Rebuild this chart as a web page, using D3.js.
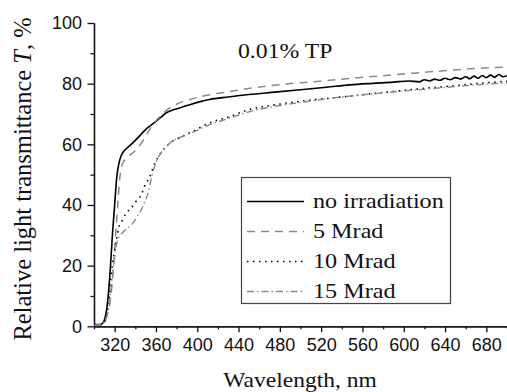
<!DOCTYPE html>
<html>
<head>
<meta charset="utf-8">
<script src="https://cdn.jsdelivr.net/npm/d3@7"></script>
<style>
  html, body { margin: 0; padding: 0; background: #fff; }
  .axes path, .axes line { stroke: #111; stroke-width: 1.3; }
  .axes text { font-family: "Liberation Sans", Arial, sans-serif; font-size: 18px; fill: #111; }
  .serif { font-family: "Liberation Serif", "Times New Roman", serif; fill: #111; }
</style>
</head>
<body>
<div id="canvas"></div>
<script>
// DATA
const noIrrWl = [300,305,308,310,312,314,316,318,320,322,324,326,328,332,336,340,344,348,352,356,360,365,370,376,383,392,402,412,430,450,475,500,525,548,570,590,605,615,620,625,630,635,640,645,650,655,660,664,668,672,676,680,684,688,692,696,700];
const noIrrT  = [0.6,0.6,0.9,2,5,11,20,31,40,49,53.5,56,57.3,58.8,60,61.3,62.7,64.2,65.5,66.5,67.6,69,70.4,71.3,72,73,74,74.8,75.6,76.4,77.2,78,78.8,79.6,80.1,80.5,80.9,80.6,81.3,80.9,81.5,81.1,81.8,81.3,82,81.5,82.3,81.6,82.5,81.8,82.7,82,82.8,82.1,83,82.3,82.6];

const mrad5Wl = [300,306,309,311,313,315,317,319,321,323,325,327,330,334,338,343,347,351,355,360,365,370,375,380,392,407,430,451,475,500,525,548,575,600,625,645,670,700];
const mrad5T  = [0.3,0.5,1,2,4,7,12,20,30,40,49,53,55,56.3,57.3,59,61,63.2,65.5,67.8,69.6,71.2,72.4,73.2,74.7,76,77.3,78.5,79.5,80.3,81,81.7,82.5,83.2,83.9,84.4,85,85.5];

const mrad10Wl = [300,306,309,311,313,315,317,320,322,324,327,331,336,341,346,349,354,359,364,372,383,396,410,430,451,475,500,525,548,575,600,625,645,670,700];
const mrad10T  = [0.3,0.5,1,2,5,10,18,25,29,32.6,34.7,37.2,39,41.3,43.5,46.2,49.3,53.9,56.7,60,62.2,64.3,66.8,69,71.5,73,74.2,75.1,75.9,76.9,77.8,78.6,79.2,80,80.8];

const mrad15Wl = [300,306,309,311,313,315,317,319,321,323,328,333,338,342,346,349,352,355,358,362,368,375,385,396,410,430,451,475,500,525,548,575,600,625,645,670,700];
const mrad15T  = [0.3,0.5,1,2,4,8,14,20,25.5,28.5,31,32.5,34.2,36.3,38.6,41,43.5,48,52,55.5,58.5,60.8,62.5,64,66.2,68.5,70.8,72.5,73.8,75,75.9,76.8,77.6,78.3,78.9,79.6,80.3];

const seriesNames = ["no irradiation", "5 Mrad", "10 Mrad", "15 Mrad"];
const xTickLabels = [320,360,400,440,480,520,560,600,640,680];
const yTickLabels = [0,20,40,60,80,100];

// DIMENSIONS
const width = 507;
const height = 392;
const margin = { top: 23, right: 0, bottom: 65, left: 94 };
const plot_width = width - margin.left - margin.right;
const plot_height = height - margin.top - margin.bottom - 0.7;

// CANVAS AND PLOT
const canvas = d3.select("#canvas")
  .append("svg")
  .attr("width", width)
  .attr("height", height);

const plot = canvas.append("g")
  .attr("transform", `translate(${margin.left},${margin.top})`);

// SCALES
const scaleX = d3.scaleLinear().domain([300, 700]).range([0, plot_width]);
const scaleY = d3.scaleLinear().domain([0, 100]).range([plot_height, 0]);

// STYLES per series
const styles = [
  { color: "#000", dash: null, w: 1.6 },
  { color: "#8a8a8a", dash: "8,6", w: 1.5 },
  { color: "#000", dash: "1.5,4.5", w: 1.6 },
  { color: "#8a8a8a", dash: "7,3,1.5,3", w: 1.4 }
];

const series = [
  [noIrrWl, noIrrT],
  [mrad5Wl, mrad5T],
  [mrad10Wl, mrad10T],
  [mrad15Wl, mrad15T]
].map(([wl, t]) => wl.map((w, i) => ({ w: w, t: t[i] })));

// AXES
const minorX = d3.range(300, 701, 40);
const minorY = d3.range(10, 100, 20);

plot.append("g")
  .attr("class", "axes")
  .attr("transform", `translate(0,${plot_height})`)
  .call(d3.axisBottom(scaleX).tickValues(minorX).tickSize(3).tickFormat("").tickSizeOuter(0));

plot.append("g")
  .attr("class", "axes")
  .attr("transform", `translate(0,${plot_height})`)
  .call(d3.axisBottom(scaleX).tickValues(xTickLabels).tickSize(6).tickPadding(6).tickSizeOuter(0));

plot.append("g")
  .attr("class", "axes")
  .call(d3.axisLeft(scaleY).tickValues(minorY).tickSize(3.5).tickFormat("").tickSizeOuter(0));

plot.append("g")
  .attr("class", "axes")
  .call(d3.axisLeft(scaleY).tickValues(yTickLabels).tickSize(6.5).tickPadding(5.5).tickSizeOuter(0));

// LINES
const line = d3.line()
  .x(d => scaleX(d.w))
  .y(d => scaleY(d.t))
  .curve(d3.curveMonotoneX);

plot.append("g")
  .selectAll("path")
  .data(series)
  .join("path")
  .attr("fill", "none")
  .attr("d", line)
  .attr("stroke", (d, i) => styles[i].color)
  .attr("stroke-width", (d, i) => styles[i].w)
  .attr("stroke-dasharray", (d, i) => styles[i].dash)
  .attr("stroke-linejoin", "round");

// helper: widen serif text like the source (wider glyphs)
function stretch(sel, k) {
  sel.each(function () {
    const len = this.getComputedTextLength();
    d3.select(this).attr("textLength", len * k).attr("lengthAdjust", "spacingAndGlyphs");
  });
}

// ANNOTATION
canvas.append("text")
  .attr("class", "serif")
  .attr("x", 238)
  .attr("y", 58)
  .style("font-size", "21px")
  .text("0.01% TP")
  .call(stretch, 1.13);

// LEGEND
const legend = canvas.append("g").attr("class", "legend");

legend.append("rect")
  .attr("x", 241.5).attr("y", 177.5)
  .attr("width", 209).attr("height", 126)
  .attr("fill", "#fff")
  .attr("stroke", "#444")
  .attr("stroke-width", 1.2);

legend.selectAll("line")
  .data(seriesNames)
  .join("line")
  .attr("x1", 247).attr("x2", 304)
  .attr("y1", (d, i) => 201.5 + i * 30)
  .attr("y2", (d, i) => 201.5 + i * 30)
  .attr("stroke", (d, i) => styles[i].color)
  .attr("stroke-width", (d, i) => styles[i].w)
  .attr("stroke-dasharray", (d, i) => styles[i].dash);

legend.selectAll("text")
  .data(seriesNames)
  .join("text")
  .attr("class", "serif")
  .attr("x", 313)
  .attr("y", (d, i) => 207.5 + i * 30)
  .style("font-size", "21px")
  .text(d => d)
  .call(stretch, 1.15);

// LABELS
canvas.append("text")
  .attr("class", "serif")
  .attr("text-anchor", "middle")
  .attr("x", 300)
  .attr("y", 386.5)
  .style("font-size", "21px")
  .text("Wavelength, nm")
  .call(stretch, 1.12);

const yLabel = canvas.append("text")
  .attr("class", "serif")
  .attr("text-anchor", "middle")
  .attr("transform", "translate(31,179) rotate(-90)")
  .style("font-size", "24.5px");
yLabel.append("tspan").text("Relative light transmittance ");
yLabel.append("tspan").style("font-style", "italic").text("T");
yLabel.append("tspan").text(", %");
</script>
</body>
</html>
